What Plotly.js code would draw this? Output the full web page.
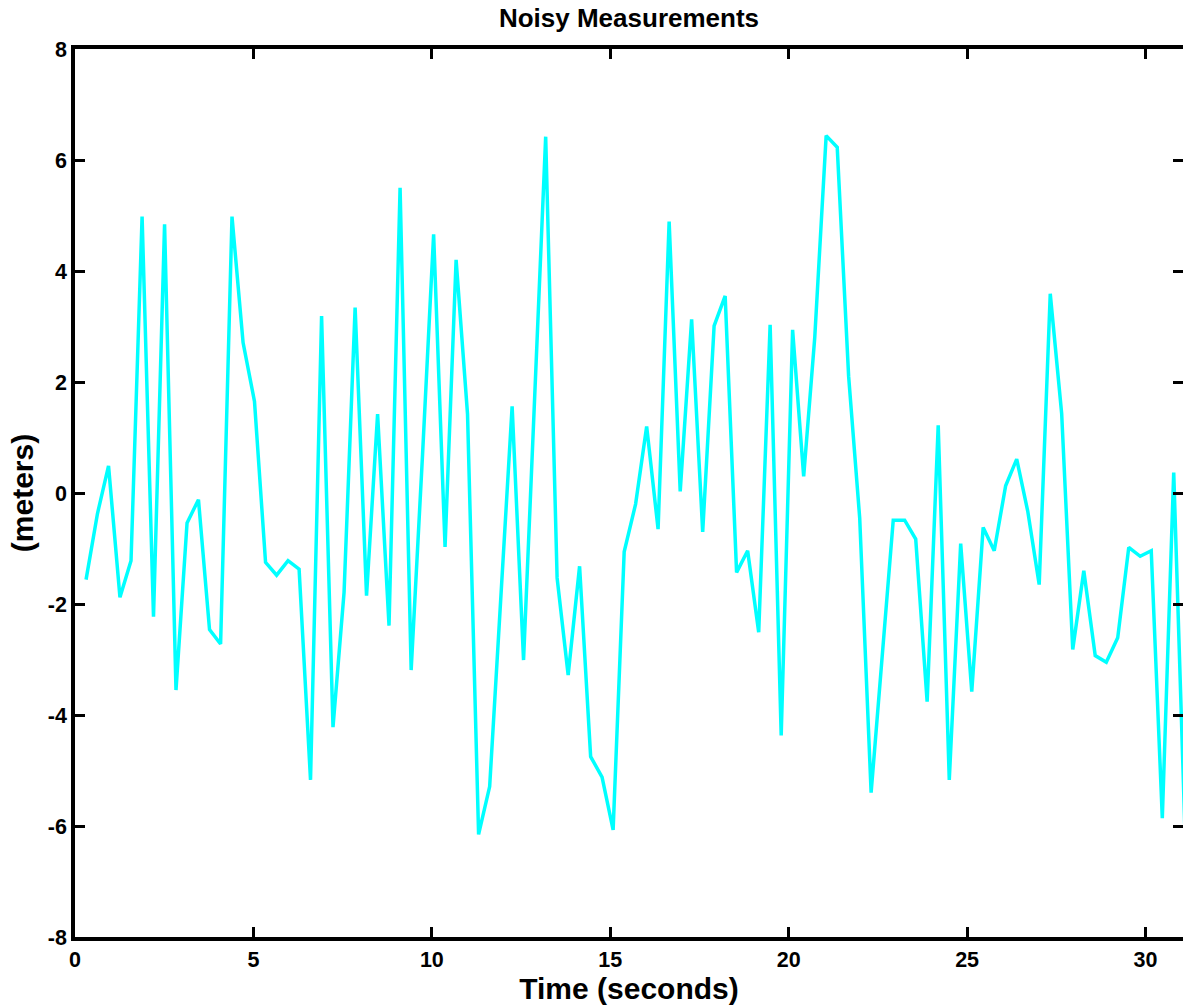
<!DOCTYPE html>
<html>
<head>
<meta charset="utf-8">
<script src="https://cdn.plot.ly/plotly-3.0.1.min.js"></script>
<style>
  html, body { margin: 0; padding: 0; background: #ffffff; }
  #chart { width: 1183px; height: 1006px; }
</style>
</head>
<body>
<div id="chart"></div>
<script>
// Sample times (seconds)
const timeSeconds = [
  0.31, 0.63, 0.94, 1.26, 1.57, 1.88, 2.20, 2.51, 2.83, 3.14,
  3.46, 3.77, 4.08, 4.40, 4.71, 5.03, 5.34, 5.65, 5.97, 6.28,
  6.60, 6.91, 7.23, 7.54, 7.85, 8.17, 8.48, 8.80, 9.11, 9.42,
  9.74, 10.05, 10.37, 10.68, 11.00, 11.31, 11.62, 11.94, 12.25, 12.57,
  12.88, 13.19, 13.51, 13.82, 14.14, 14.45, 14.77, 15.08, 15.39, 15.71,
  16.02, 16.34, 16.65, 16.96, 17.28, 17.59, 17.91, 18.22, 18.54, 18.85,
  19.16, 19.48, 19.79, 20.11, 20.42, 20.73, 21.05, 21.36, 21.68, 21.99,
  22.31, 22.62, 22.93, 23.25, 23.56, 23.88, 24.19, 24.50, 24.82, 25.13,
  25.45, 25.76, 26.08, 26.39, 26.70, 27.02, 27.33, 27.65, 27.96, 28.27,
  28.59, 28.90, 29.22, 29.53, 29.85, 30.16, 30.47, 30.79, 31.10
];

// Measured values (meters)
const measurements = [
  -1.56, -0.37, 0.49, -1.88, -1.22, 4.98, -2.23, 4.84, -3.55, -0.54,
  -0.12, -2.46, -2.72, 4.98, 2.71, 1.65, -1.25, -1.48, -1.22, -1.37,
  -5.17, 3.19, -4.22, -1.79, 3.34, -1.85, 1.42, -2.39, 5.50, -3.19,
  0.70, 4.66, -0.97, 4.20, 1.42, -6.15, -5.29, -1.81, 1.56, -3.01,
  1.70, 6.42, -1.53, -3.28, -1.32, -4.75, -5.12, -6.07, -1.06, -0.20,
  1.20, -0.65, 4.89, 0.03, 3.13, -0.70, 3.01, 3.55, -1.43, -1.04,
  -2.51, 3.03, -4.37, 2.94, 0.30, 2.80, 6.44, 6.23, 2.10, -0.45,
  -5.40, -2.90, -0.49, -0.49, -0.83, -3.76, 1.22, -5.17, -0.91, -3.58,
  -0.62, -1.04, 0.13, 0.61, -0.33, -1.65, 3.59, 1.43, -2.82, -1.40,
  -2.93, -3.05, -2.61, -0.98, -1.14, -1.04, -5.86, 0.37, -6.00
];

const xTickValues = [0, 5, 10, 15, 20, 25, 30];
const yTickValues = [-8, -6, -4, -2, 0, 2, 4, 6, 8];

const FONT = 'Liberation Sans, Arial, Helvetica, sans-serif';

const trace = {
  x: timeSeconds,
  y: measurements,
  type: 'scatter',
  mode: 'lines',
  line: { color: '#00ffff', width: 3.5 },
  hoverinfo: 'x+y'
};

const axisCommon = {
  showgrid: false,
  zeroline: false,
  showline: true,
  linecolor: '#000000',
  linewidth: 3.5,
  mirror: 'ticks',
  ticks: 'inside',
  ticklen: 10,
  tickwidth: 3,
  tickcolor: '#000000',
  tickfont: { family: FONT, size: 21.5, color: '#000000', weight: 'bold' }
};

const layout = {
  width: 1183,
  height: 1006,
  paper_bgcolor: '#ffffff',
  plot_bgcolor: '#ffffff',
  margin: { l: 75, r: 0, t: 49, b: 69 },
  showlegend: false,
  title: {
    text: 'Noisy Measurements',
    font: { family: FONT, size: 26, color: '#000000', weight: 'bold' },
    x: 0.5,
    xref: 'paper',
    xanchor: 'center',
    y: 1 - 18 / 1006,
    yref: 'container',
    yanchor: 'middle'
  },
  xaxis: Object.assign({}, axisCommon, {
    range: [0, 31.05],
    tickmode: 'array',
    tickvals: xTickValues,
    ticktext: xTickValues.map(String),
    title: {
      text: 'Time (seconds)',
      font: { family: FONT, size: 30, color: '#000000', weight: 'bold' },
      standoff: 4
    }
  }),
  yaxis: Object.assign({}, axisCommon, {
    range: [-8, 8],
    tickmode: 'array',
    tickvals: yTickValues,
    ticktext: yTickValues.map(String),
    title: {
      text: '(meters)',
      font: { family: FONT, size: 30, color: '#000000', weight: 'bold' },
      standoff: 6
    }
  })
};

Plotly.newPlot('chart', [trace], layout, { displayModeBar: false });
</script>
</body>
</html>
